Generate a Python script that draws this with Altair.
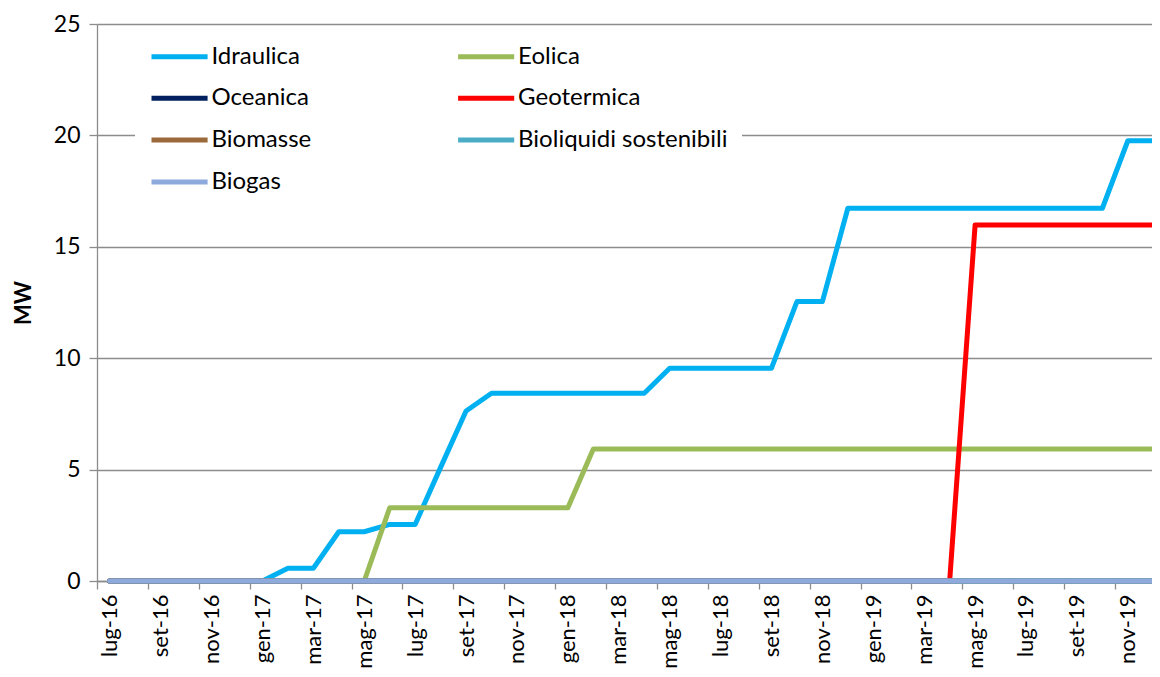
import altair as alt
import pandas as pd

months = ["lug-16", "ago-16", "set-16", "ott-16", "nov-16", "dic-16",
          "gen-17", "feb-17", "mar-17", "apr-17", "mag-17", "giu-17",
          "lug-17", "ago-17", "set-17", "ott-17", "nov-17", "dic-17",
          "gen-18", "feb-18", "mar-18", "apr-18", "mag-18", "giu-18",
          "lug-18", "ago-18", "set-18", "ott-18", "nov-18", "dic-18",
          "gen-19", "feb-19", "mar-19", "apr-19", "mag-19", "giu-19",
          "lug-19", "ago-19", "set-19", "ott-19", "nov-19", "dic-19"]

series = ["Idraulica", "Eolica", "Oceanica", "Geotermica", "Biomasse",
          "Bioliquidi sostenibili", "Biogas"]
colors = ["#00B0F0", "#9BBB59", "#002060", "#FF0000", "#9C6A3A", "#4BACC6", "#8EA9DB"]

idraulica = [0, 0, 0, 0, 0, 0, 0, 0.57, 0.57, 2.21, 2.21, 2.54, 2.54, 5.1, 7.63,
             8.43, 8.43, 8.43, 8.43, 8.43, 8.43, 8.43, 9.55, 9.55, 9.55, 9.55, 9.55,
             12.54, 12.54, 16.73, 16.73, 16.73, 16.73, 16.73, 16.73, 16.73, 16.73,
             16.73, 16.73, 16.73, 19.76, 19.76]
eolica = [0, 0, 0, 0, 0, 0, 0, 0, 0, 0, 0, 3.29, 3.29, 3.29, 3.29, 3.29, 3.29,
          3.29, 3.29, 5.92, 5.92, 5.92, 5.92, 5.92, 5.92, 5.92, 5.92, 5.92, 5.92,
          5.92, 5.92, 5.92, 5.92, 5.92, 5.92, 5.92, 5.92, 5.92, 5.92, 5.92, 5.92, 5.92]
oceanica = [0, 0, 0, 0, 0, 0, 0, 0, 0, 0, 0, 0, 0, 0, 0, 0, 0, 0, 0, 0, 0,
            0, 0, 0, 0, 0, 0, 0, 0, 0, 0, 0, 0, 0, 0, 0, 0, 0, 0, 0, 0, 0]
geotermica = [0, 0, 0, 0, 0, 0, 0, 0, 0, 0, 0, 0, 0, 0, 0, 0, 0, 0, 0, 0, 0,
              0, 0, 0, 0, 0, 0, 0, 0, 0, 0, 0, 0, 0, 15.98, 15.98, 15.98, 15.98,
              15.98, 15.98, 15.98, 15.98]
biomasse = [0, 0, 0, 0, 0, 0, 0, 0, 0, 0, 0, 0, 0, 0, 0, 0, 0, 0, 0, 0, 0,
            0, 0, 0, 0, 0, 0, 0, 0, 0, 0, 0, 0, 0, 0, 0, 0, 0, 0, 0, 0, 0]
bioliquidi = [0, 0, 0, 0, 0, 0, 0, 0, 0, 0, 0, 0, 0, 0, 0, 0, 0, 0, 0, 0, 0,
              0, 0, 0, 0, 0, 0, 0, 0, 0, 0, 0, 0, 0, 0, 0, 0, 0, 0, 0, 0, 0]
biogas = [0, 0, 0, 0, 0, 0, 0, 0, 0, 0, 0, 0, 0, 0, 0, 0, 0, 0, 0, 0, 0,
          0, 0, 0, 0, 0, 0, 0, 0, 0, 0, 0, 0, 0, 0, 0, 0, 0, 0, 0, 0, 0]

y_ticks = [0, 5, 10, 15, 20, 25]

all_values = [idraulica, eolica, oceanica, geotermica, biomasse, bioliquidi, biogas]
rows = []
for s, vals in zip(series, all_values):
    for i, v in enumerate(vals):
        rows.append({"serie": s, "idx": i, "mese": months[i], "MW": v})
df = pd.DataFrame(rows)

tick_values = [i - 0.5 for i in range(0, len(months), 2)]
label_expr = "[" + ",".join("'" + m + "'" for m in months) + "][round(datum.value + 0.5)]"

GRID = "#8C8C8C"
FONT = "Lato"

chart = alt.Chart(df).mark_line(strokeWidth=5, strokeCap="round", strokeJoin="round").encode(
    x=alt.X("idx:Q",
            scale=alt.Scale(domain=[-0.5, 40.95], nice=False, zero=False),
            axis=alt.Axis(values=tick_values, labelExpr=label_expr, labelAngle=-90,
                          labelOffset=12.7, labelOverlap=False, labelBound=False,
                          labelFont=FONT, labelFontSize=22, labelColor="black",
                          labelPadding=5, tickSize=8, tickColor=GRID, tickWidth=1.3,
                          domainColor=GRID, domainWidth=1.3, grid=False, title=None)),
    y=alt.Y("MW:Q",
            scale=alt.Scale(domain=[0, 25], nice=False),
            axis=alt.Axis(values=y_ticks, labelFont=FONT, labelFontSize=23,
                          labelColor="black", labelPadding=9, tickSize=8,
                          tickColor=GRID, tickWidth=1.3, domainColor=GRID,
                          domainWidth=1.3, grid=True, gridColor=GRID, gridWidth=1.3,
                          title="MW", titleFont=FONT, titleFontSize=22,
                          titleFontWeight="bold", titleColor="black", titlePadding=18)),
    color=alt.Color("serie:N", sort=series,
                    scale=alt.Scale(domain=series, range=colors),
                    legend=alt.Legend(orient="none", legendX=38, legendY=5, columns=2,
                                      direction="horizontal",
                                      title=None, symbolType="M-1,0H4.1", symbolSize=484,
                                      symbolStrokeWidth=5, labelFont=FONT,
                                      labelFontSize=24, labelColor="black",
                                      labelOffset=35.5, rowPadding=15.8, columnPadding=135.6,
                                      padding=14, fillColor="white", labelLimit=400)),
).properties(
    width=1055,
    height=557,
    autosize=alt.AutoSizeParams(type="none"),
    padding={"left": 89, "top": 16, "right": 0, "bottom": 88},
    background="white",
).configure_view(stroke=None)

chart.save("out.html", embed_options={"renderer": "svg", "actions": False})
